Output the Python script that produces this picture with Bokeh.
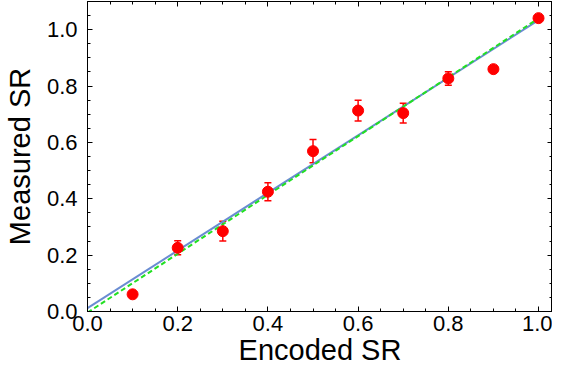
from bokeh.plotting import figure
from bokeh.models import (LinearAxis, Range1d, ColumnDataSource, Whisker, TeeHead,
                          FixedTicker, CustomJSTickFormatter, PrintfTickFormatter)
from bokeh.embed import file_html
from bokeh.resources import INLINE

# data
encoded = [0.1, 0.2, 0.3, 0.4, 0.5, 0.6, 0.7, 0.8, 0.9, 1.0]
measured = [0.061, 0.226, 0.285, 0.425, 0.569, 0.713, 0.704, 0.827, 0.860, 1.041]
err = [0.008, 0.025, 0.035, 0.032, 0.041, 0.037, 0.035, 0.024, 0.008, 0.008]

fit_x = [0.0, 1.0]
fit_blue = [0.012, 1.034]
fit_green = [-0.004, 1.040]

major_ticks = [0.0, 0.2, 0.4, 0.6, 0.8, 1.0]
minor_ticks = [0.05, 0.1, 0.15, 0.25, 0.3, 0.35, 0.45, 0.5, 0.55, 0.65, 0.7, 0.75,
               0.85, 0.9, 0.95, 1.05]

FONT = "Liberation Sans"

p = figure(width=552, height=368, output_backend="svg", toolbar_location=None,
           x_range=Range1d(0, 1.031), y_range=Range1d(0, 1.10),
           x_axis_location=None, y_axis_location=None,
           min_border_left=86, min_border_right=0, min_border_top=1, min_border_bottom=0)
p.xgrid.visible = False
p.ygrid.visible = False
p.outline_line_color = "black"
p.outline_line_width = 1
p.background_fill_color = "white"
p.border_fill_color = "white"

def style(ax, labels=True):
    ax.ticker = FixedTicker(ticks=major_ticks, minor_ticks=minor_ticks)
    ax.axis_line_color = "black"
    ax.major_tick_line_color = "black"
    ax.minor_tick_line_color = "black"
    ax.major_tick_in = 5
    ax.major_tick_out = 0
    ax.minor_tick_in = 3
    ax.minor_tick_out = 0
    ax.major_label_text_font = FONT
    ax.major_label_text_color = "black"
    ax.major_label_text_font_size = "22px"
    if labels:
        ax.formatter = PrintfTickFormatter(format="%.1f")
    else:
        ax.formatter = CustomJSTickFormatter(code="return '';")
        ax.major_label_standoff = 0
        ax.axis_label_standoff = 0
    ax.axis_label_text_font = FONT
    ax.axis_label_text_font_style = "normal"
    ax.axis_label_text_color = "black"
    ax.axis_label_text_font_size = "29px"

xb = LinearAxis(axis_label="Encoded SR")
style(xb)
xb.major_label_standoff = 4
xb.axis_label_standoff = 0
xb.axis_label_text_baseline = "top"
p.add_layout(xb, "below")

yl = LinearAxis(axis_label="Measured SR")
style(yl)
yl.major_label_standoff = 10
yl.axis_label_standoff = 8
p.add_layout(yl, "left")

xt = LinearAxis()
style(xt, labels=False)
p.add_layout(xt, "above")

yr = LinearAxis()
style(yr, labels=False)
p.add_layout(yr, "right")

p.line(fit_x, fit_blue, line_color="#6a8cd2", line_width=2)
p.line(fit_x, fit_green, line_color="#22e022", line_width=2, line_dash="5 3")

src = ColumnDataSource(dict(x=encoded, y=measured,
                            lo=[m - e for m, e in zip(measured, err)],
                            hi=[m + e for m, e in zip(measured, err)]))
w = Whisker(source=src, base="x", lower="lo", upper="hi",
            line_color="red", line_width=1.5,
            upper_head=TeeHead(size=7, line_color="red", line_width=1.5),
            lower_head=TeeHead(size=7, line_color="red", line_width=1.5))
p.add_layout(w)
p.scatter("x", "y", source=src, size=11, color="red", line_color="red")

open("out.html", "w").write(file_html(p, INLINE))
